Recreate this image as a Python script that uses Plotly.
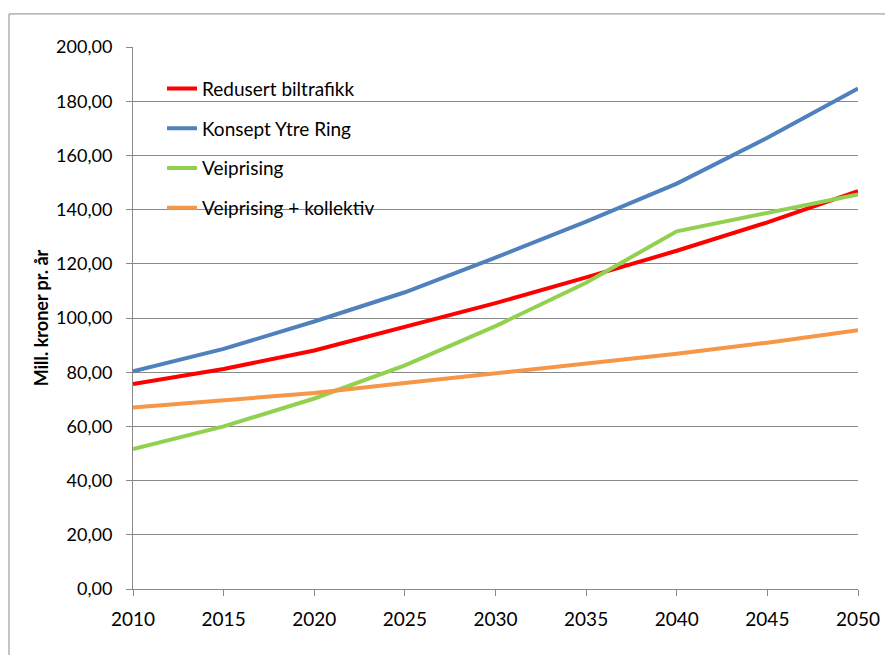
import plotly.graph_objects as go

years = [2010, 2015, 2020, 2025, 2030, 2035, 2040, 2045, 2050]
redusert_biltrafikk = [75.6, 81.2, 88.0, 96.8, 105.5, 115.0, 124.8, 135.3, 146.8]
konsept_ytre_ring = [80.3, 88.6, 98.7, 109.5, 122.3, 135.6, 149.6, 166.5, 184.7]
veiprising = [51.6, 60.0, 70.3, 82.5, 97.0, 113.0, 132.0, 138.7, 145.6]
veiprising_kollektiv = [67.0, 69.6, 72.3, 76.0, 79.7, 83.3, 86.8, 90.9, 95.5]

series = [
    ("Redusert biltrafikk", redusert_biltrafikk, "#FF0000"),
    ("Konsept Ytre Ring", konsept_ytre_ring, "#4F81BD"),
    ("Veiprising", veiprising, "#92D050"),
    ("Veiprising + kollektiv", veiprising_kollektiv, "#F79646"),
]

FONT = "Lato"
GRID = "#898989"

fig = go.Figure()
for i, (name, vals, col) in enumerate(series):
    fig.add_trace(go.Scatter(x=years, y=vals, name=name, mode="lines",
                             line=dict(color=col, width=4), legendgroup=f"g{i}"))

fig.update_layout(
    width=885, height=655,
    margin=dict(l=133, r=27, t=47, b=66, autoexpand=False),
    paper_bgcolor="white", plot_bgcolor="white",
    separators=", ",
    font=dict(family=FONT, size=19, color="black"),
    showlegend=True,
    legend=dict(x=0.040, y=0.958, xanchor="left", yanchor="top",
                bgcolor="rgba(0,0,0,0)", tracegroupgap=12,
                font=dict(family=FONT, size=19, color="black")),
    xaxis=dict(range=[2010, 2050], tickvals=list(range(2010, 2051, 5)),
               showgrid=False, showline=True, linecolor=GRID, linewidth=1,
               ticks="outside", ticklen=6, tickcolor=GRID, zeroline=False,
               ticklabelstandoff=7, ticklabeloverflow="allow", automargin=False,
               tickfont=dict(family=FONT, size=19)),
    yaxis=dict(range=[0, 200], dtick=20, tickformat=".2f",
               showgrid=True, gridcolor=GRID, gridwidth=1,
               showline=True, linecolor=GRID, linewidth=1,
               ticks="outside", ticklen=6, tickcolor=GRID, zeroline=False,
               ticklabelstandoff=10, automargin=False,
               tickfont=dict(family=FONT, size=18),
               title=dict(text="<b>Mill. kroner pr. år</b>", standoff=2,
                          font=dict(family=FONT, size=18))),
    shapes=[dict(type="rect", xref="paper", yref="paper",
                 x0=-0.171, x1=1.05, y0=-0.14, y1=1.061,
                 line=dict(color=GRID, width=1), fillcolor="rgba(0,0,0,0)",
                 layer="below")],
)

fig.write_html("out.html", config={"displayModeBar": False},
               post_script="document.body.style.margin='0';document.body.style.overflow='hidden';")
